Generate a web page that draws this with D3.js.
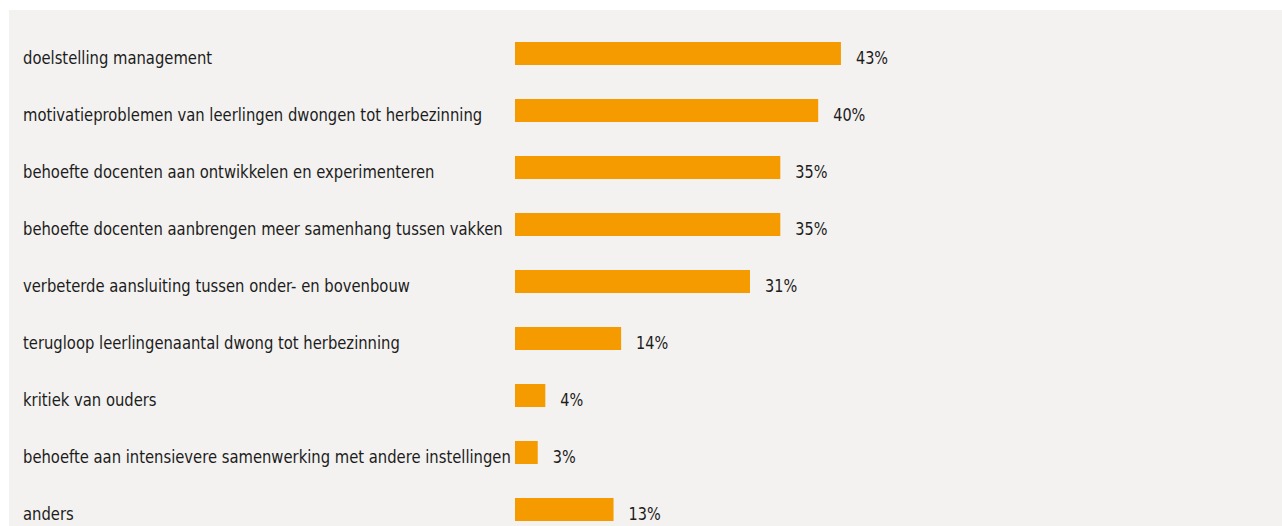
<!DOCTYPE html>
<html>
<head>
<meta charset="utf-8">
<script src="https://cdn.jsdelivr.net/npm/d3@7"></script>
<style>
  html, body { margin: 0; padding: 0; background: #ffffff; }
  svg { display: block; }
</style>
</head>
<body>
<svg id="chart" width="1282" height="526"></svg>
<script>
// Categories (top to bottom) and their shares in percent
const categories = [
  "doelstelling management",
  "motivatieproblemen van leerlingen dwongen tot herbezinning",
  "behoefte docenten aan ontwikkelen en experimenteren",
  "behoefte docenten aanbrengen meer samenhang tussen vakken",
  "verbeterde aansluiting tussen onder- en bovenbouw",
  "terugloop leerlingenaantal dwong tot herbezinning",
  "kritiek van ouders",
  "behoefte aan intensievere samenwerking met andere instellingen",
  "anders"
];
const values = [43, 40, 35, 35, 31, 14, 4, 3, 13];
const valueLabels = values.map(v => v + "%");

const W = 1282, H = 526;
const svg = d3.select("#chart");

// panel background
svg.append("rect")
  .attr("x", 9).attr("y", 10)
  .attr("width", W - 9).attr("height", H - 10)
  .attr("fill", "#f3f2f0");

const x0 = 515;
const x = d3.scaleLinear().domain([0, 100]).range([x0, x0 + 758]);

const y = d3.scaleBand()
  .domain(categories)
  .range([42 - 17, 42 - 17 + 57 * categories.length])
  .paddingInner(34 / 57)
  .paddingOuter(17 / 57);

const font = "'DejaVu Sans Condensed', 'DejaVu Sans', sans-serif";
const fontSize = 17.5;
const labelSqueeze = 0.94;  // horizontal compression for a condensed look
const valueSqueeze = 0.92;
const baselineOffset = 10;  // baseline below bar centre

const data = categories.map((c, i) => ({ c, v: values[i], label: valueLabels[i] }));

const rows = svg.append("g").selectAll("g")
  .data(data)
  .join("g");

rows.append("rect")
  .attr("x", x(0))
  .attr("y", d => y(d.c))
  .attr("width", d => x(d.v) - x(0))
  .attr("height", y.bandwidth())
  .attr("fill", "#f59b00");

rows.append("text")
  .attr("transform", d => `translate(23,${y(d.c) + y.bandwidth() / 2 + baselineOffset}) scale(${labelSqueeze},1)`)
  .attr("font-family", font)
  .attr("font-size", fontSize)
  .attr("fill", "#1c1c1c")
  .text(d => d.c);

rows.append("text")
  .attr("transform", d => `translate(${x(d.v) + 15},${y(d.c) + y.bandwidth() / 2 + baselineOffset}) scale(${valueSqueeze},1)`)
  .attr("font-family", font)
  .attr("font-size", fontSize)
  .attr("fill", "#1c1c1c")
  .text(d => d.label);
</script>
</body>
</html>
